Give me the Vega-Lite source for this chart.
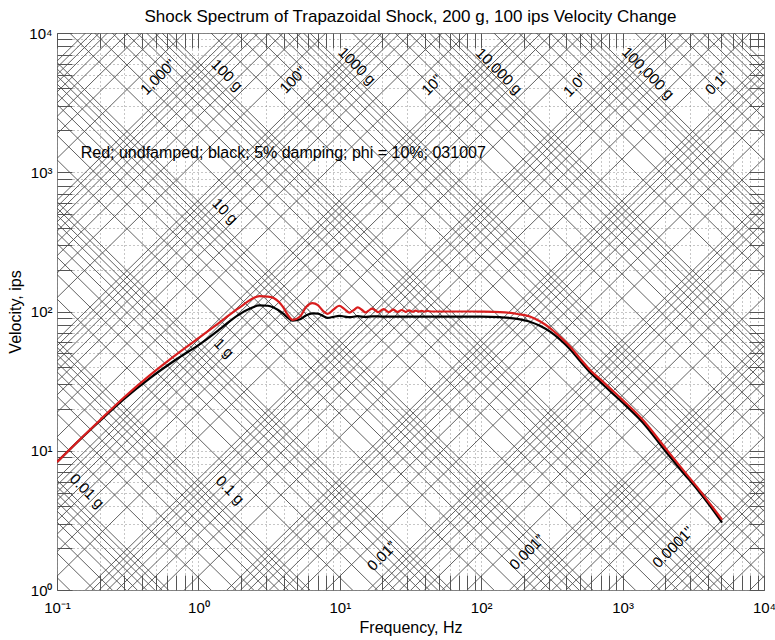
{
"$schema": "https://vega.github.io/schema/vega-lite/v6.json",
"width": 707, "height": 557,
"autosize": {"type": "none"},
"padding": {"left": 57, "top": 33, "right": 11, "bottom": 50},
"title": {"text": "Shock Spectrum of Trapazoidal Shock, 200 g, 100 ips Velocity Change", "font": "Liberation Sans", "fontSize": 17, "fontWeight": "normal", "color": "#000", "offset": 0, "anchor": "middle"},
"config": {
  "view": {"stroke": "#808080", "strokeWidth": 1},
  "axis": {"labelFont": "Liberation Sans", "titleFont": "Liberation Sans", "labelFontSize": 15, "titleFontSize": 16, "titleFontWeight": "normal", "labelColor": "#000", "titleColor": "#000", "tickColor": "#555", "tickWidth": 1, "domain": false, "labelFlush": false, "labelOverlap": false, "gridDash": [1, 3], "gridColor": "#8c8c8c", "gridOpacity": 1, "gridWidth": 1, "tickSize": -15}
},
"datasets": {
"grid": [
{"v1":12.2898e0,"v2":12.2898e-7},{"v1":18.4347e0,"v2":18.4347e-7},{"v1":24.5796e0,"v2":24.5796e-7},{"v1":30.7245e0,"v2":30.7245e-7},{"v1":36.8694e0,"v2":36.8694e-7},{"v1":43.0143e0,"v2":43.0143e-7},{"v1":49.1592e0,"v2":49.1592e-7},{"v1":55.3041e0,"v2":55.3041e-7},
{"v1":6.1449e1,"v2":6.1449e-6},{"v1":12.2898e1,"v2":12.2898e-6},{"v1":18.4347e1,"v2":18.4347e-6},{"v1":24.5796e1,"v2":24.5796e-6},{"v1":30.7245e1,"v2":30.7245e-6},{"v1":36.8694e1,"v2":36.8694e-6},{"v1":43.0143e1,"v2":43.0143e-6},{"v1":49.1592e1,"v2":49.1592e-6},{"v1":55.3041e1,"v2":55.3041e-6},
{"v1":6.1449e2,"v2":6.1449e-5},{"v1":12.2898e2,"v2":12.2898e-5},{"v1":18.4347e2,"v2":18.4347e-5},{"v1":24.5796e2,"v2":24.5796e-5},{"v1":30.7245e2,"v2":30.7245e-5},{"v1":36.8694e2,"v2":36.8694e-5},{"v1":43.0143e2,"v2":43.0143e-5},{"v1":49.1592e2,"v2":49.1592e-5},{"v1":55.3041e2,"v2":55.3041e-5},
{"v1":6.1449e3,"v2":6.1449e-4},{"v1":12.2898e3,"v2":12.2898e-4},{"v1":18.4347e3,"v2":18.4347e-4},{"v1":24.5796e3,"v2":24.5796e-4},{"v1":30.7245e3,"v2":30.7245e-4},{"v1":36.8694e3,"v2":36.8694e-4},{"v1":43.0143e3,"v2":43.0143e-4},{"v1":49.1592e3,"v2":49.1592e-4},{"v1":55.3041e3,"v2":55.3041e-4},
{"v1":6.1449e4,"v2":6.1449e-3},{"v1":12.2898e4,"v2":12.2898e-3},{"v1":18.4347e4,"v2":18.4347e-3},{"v1":24.5796e4,"v2":24.5796e-3},{"v1":30.7245e4,"v2":30.7245e-3},{"v1":36.8694e4,"v2":36.8694e-3},{"v1":43.0143e4,"v2":43.0143e-3},{"v1":49.1592e4,"v2":49.1592e-3},{"v1":55.3041e4,"v2":55.3041e-3},
{"v1":6.1449e5,"v2":6.1449e-2},{"v1":12.2898e5,"v2":12.2898e-2},{"v1":18.4347e5,"v2":18.4347e-2},{"v1":24.5796e5,"v2":24.5796e-2},{"v1":30.7245e5,"v2":30.7245e-2},{"v1":36.8694e5,"v2":36.8694e-2},{"v1":43.0143e5,"v2":43.0143e-2},{"v1":49.1592e5,"v2":49.1592e-2},{"v1":55.3041e5,"v2":55.3041e-2},
{"v1":6.1449e6,"v2":6.1449e-1},{"v1":12.2898e6,"v2":12.2898e-1},{"v1":18.4347e6,"v2":18.4347e-1},{"v1":24.5796e6,"v2":24.5796e-1},{"v1":30.7245e6,"v2":30.7245e-1},{"v1":36.8694e6,"v2":36.8694e-1},{"v1":43.0143e6,"v2":43.0143e-1},{"v1":49.1592e6,"v2":49.1592e-1},{"v1":55.3041e6,"v2":55.3041e-1},
{"v1":6.1449e7,"v2":6.1449e0},{"v1":12.2898e7,"v2":12.2898e0},{"v1":18.4347e7,"v2":18.4347e0},{"v1":24.5796e7,"v2":24.5796e0},{"v1":30.7245e7,"v2":30.7245e0},{"v1":36.8694e7,"v2":36.8694e0},{"v1":43.0143e7,"v2":43.0143e0},{"v1":49.1592e7,"v2":49.1592e0},{"v1":55.3041e7,"v2":55.3041e0},
{"v1":6.1449e8,"v2":6.1449e1},{"v1":12.2898e8,"v2":12.2898e1},{"v1":18.4347e8,"v2":18.4347e1},{"v1":24.5796e8,"v2":24.5796e1},{"v1":30.7245e8,"v2":30.7245e1},{"v1":36.8694e8,"v2":36.8694e1},{"v1":43.0143e8,"v2":43.0143e1},{"v1":49.1592e8,"v2":49.1592e1},{"v1":55.3041e8,"v2":55.3041e1},
{"v1":6.1449e9,"v2":6.1449e2},
{"v1":12.56637e-7,"v2":12.56637e0},{"v1":18.84956e-7,"v2":18.84956e0},{"v1":25.13274e-7,"v2":25.13274e0},{"v1":31.41593e-7,"v2":31.41593e0},{"v1":37.69911e-7,"v2":37.69911e0},{"v1":43.9823e-7,"v2":43.9823e0},{"v1":50.26548e-7,"v2":50.26548e0},{"v1":56.54867e-7,"v2":56.54867e0},
{"v1":6.28319e-6,"v2":6.28319e1},{"v1":12.56637e-6,"v2":12.56637e1},{"v1":18.84956e-6,"v2":18.84956e1},{"v1":25.13274e-6,"v2":25.13274e1},{"v1":31.41593e-6,"v2":31.41593e1},{"v1":37.69911e-6,"v2":37.69911e1},{"v1":43.9823e-6,"v2":43.9823e1},{"v1":50.26548e-6,"v2":50.26548e1},{"v1":56.54867e-6,"v2":56.54867e1},
{"v1":6.28319e-5,"v2":6.28319e2},{"v1":12.56637e-5,"v2":12.56637e2},{"v1":18.84956e-5,"v2":18.84956e2},{"v1":25.13274e-5,"v2":25.13274e2},{"v1":31.41593e-5,"v2":31.41593e2},{"v1":37.69911e-5,"v2":37.69911e2},{"v1":43.9823e-5,"v2":43.9823e2},{"v1":50.26548e-5,"v2":50.26548e2},{"v1":56.54867e-5,"v2":56.54867e2},
{"v1":6.28319e-4,"v2":6.28319e3},{"v1":12.56637e-4,"v2":12.56637e3},{"v1":18.84956e-4,"v2":18.84956e3},{"v1":25.13274e-4,"v2":25.13274e3},{"v1":31.41593e-4,"v2":31.41593e3},{"v1":37.69911e-4,"v2":37.69911e3},{"v1":43.9823e-4,"v2":43.9823e3},{"v1":50.26548e-4,"v2":50.26548e3},{"v1":56.54867e-4,"v2":56.54867e3},
{"v1":6.28319e-3,"v2":6.28319e4},{"v1":12.56637e-3,"v2":12.56637e4},{"v1":18.84956e-3,"v2":18.84956e4},{"v1":25.13274e-3,"v2":25.13274e4},{"v1":31.41593e-3,"v2":31.41593e4},{"v1":37.69911e-3,"v2":37.69911e4},{"v1":43.9823e-3,"v2":43.9823e4},{"v1":50.26548e-3,"v2":50.26548e4},{"v1":56.54867e-3,"v2":56.54867e4},
{"v1":6.28319e-2,"v2":6.28319e5},{"v1":12.56637e-2,"v2":12.56637e5},{"v1":18.84956e-2,"v2":18.84956e5},{"v1":25.13274e-2,"v2":25.13274e5},{"v1":31.41593e-2,"v2":31.41593e5},{"v1":37.69911e-2,"v2":37.69911e5},{"v1":43.9823e-2,"v2":43.9823e5},{"v1":50.26548e-2,"v2":50.26548e5},{"v1":56.54867e-2,"v2":56.54867e5},
{"v1":6.28319e-1,"v2":6.28319e6},{"v1":12.56637e-1,"v2":12.56637e6},{"v1":18.84956e-1,"v2":18.84956e6},{"v1":25.13274e-1,"v2":25.13274e6},{"v1":31.41593e-1,"v2":31.41593e6},{"v1":37.69911e-1,"v2":37.69911e6},{"v1":43.9823e-1,"v2":43.9823e6},{"v1":50.26548e-1,"v2":50.26548e6},{"v1":56.54867e-1,"v2":56.54867e6},
{"v1":6.28319e0,"v2":6.28319e7},{"v1":12.56637e0,"v2":12.56637e7},{"v1":18.84956e0,"v2":18.84956e7},{"v1":25.13274e0,"v2":25.13274e7},{"v1":31.41593e0,"v2":31.41593e7},{"v1":37.69911e0,"v2":37.69911e7},{"v1":43.9823e0,"v2":43.9823e7},{"v1":50.26548e0,"v2":50.26548e7},{"v1":56.54867e0,"v2":56.54867e7},
{"v1":6.28319e1,"v2":6.28319e8},{"v1":12.56637e1,"v2":12.56637e8},{"v1":18.84956e1,"v2":18.84956e8},{"v1":25.13274e1,"v2":25.13274e8},{"v1":31.41593e1,"v2":31.41593e8},{"v1":37.69911e1,"v2":37.69911e8},{"v1":43.9823e1,"v2":43.9823e8},{"v1":50.26548e1,"v2":50.26548e8},{"v1":56.54867e1,"v2":56.54867e8},
{"v1":6.28319e2,"v2":6.28319e9}
],
"labels": [
{"kind":"a","f":1.594,"v":4991,"text":"100 g"},
{"kind":"a","f":13.23,"v":5794,"text":"1000 g"},
{"kind":"a","f":133.6,"v":5333,"text":"10,000 g"},
{"kind":"a","f":1513,"v":5161,"text":"100,000 g"},
{"kind":"a","f":1.542,"v":526.8,"text":"10 g"},
{"kind":"a","f":1.517,"v":54.7,"text":"1 g"},
{"kind":"a","f":0.163,"v":5.14,"text":"0.01 g"},
{"kind":"a","f":1.673,"v":5.23,"text":"0.1 g"},
{"kind":"d","f":0.518,"v":4831,"text":"1,000\""},
{"kind":"d","f":4.667,"v":4598,"text":"100\""},
{"kind":"d","f":44.87,"v":4232,"text":"10\""},
{"kind":"d","f":460.6,"v":4232,"text":"1.0\""},
{"kind":"d","f":4653,"v":4375,"text":"0.1\""},
{"kind":"d","f":19.88,"v":1.754,"text":"0.01\""},
{"kind":"d","f":210.9,"v":1.875,"text":"0.001\""},
{"kind":"d","f":2271,"v":2.036,"text":"0.0001\""}
],
"note": [{"f":0.1471,"v":1375,"text":"Red; undfamped; black; 5% damping; phi = 10%; 031007"}],
"curves": [
{"s":"red","f":0.1,"v":8.3},{"s":"red","f":0.15,"v":12.45},{"s":"red","f":0.2,"v":16.5},{"s":"red","f":0.3,"v":24.3},{"s":"red","f":0.45,"v":34.6},{"s":"red","f":0.7,"v":49.2},{"s":"red","f":1.03,"v":65.7},{"s":"red","f":1.4,"v":83},{"s":"red","f":1.76,"v":99},{"s":"red","f":2.0,"v":108.5},{"s":"red","f":2.32,"v":121},{"s":"red","f":2.7,"v":129},{"s":"red","f":3.1,"v":128},{"s":"red","f":3.4,"v":125},{"s":"red","f":3.96,"v":108},{"s":"red","f":4.3,"v":94},{"s":"red","f":4.65,"v":87},{"s":"red","f":5.24,"v":92},{"s":"red","f":5.8,"v":108},{"s":"red","f":6.4,"v":115},{"s":"red","f":7.0,"v":111},{"s":"red","f":7.6,"v":101},{"s":"red","f":8.2,"v":96},{"s":"red","f":9.0,"v":103},{"s":"red","f":9.9,"v":110},{"s":"red","f":10.8,"v":104},{"s":"red","f":11.7,"v":98},{"s":"red","f":12.5,"v":102},{"s":"red","f":13.4,"v":107},{"s":"red","f":14.3,"v":103},{"s":"red","f":15.2,"v":98.5},{"s":"red","f":16.0,"v":101.5},{"s":"red","f":16.9,"v":105},{"s":"red","f":17.8,"v":102},{"s":"red","f":18.7,"v":99},{"s":"red","f":20.4,"v":104},{"s":"red","f":22.2,"v":99},{"s":"red","f":23.9,"v":103},{"s":"red","f":25.7,"v":99.3},{"s":"red","f":27.4,"v":102.5},{"s":"red","f":29.2,"v":99.5},{"s":"red","f":30.9,"v":102},{"s":"red","f":32.7,"v":99.6},{"s":"red","f":34.4,"v":101.5},{"s":"red","f":36.2,"v":99.7},{"s":"red","f":37.9,"v":101},{"s":"red","f":39.7,"v":99.8},{"s":"red","f":41.4,"v":100.8},{"s":"red","f":45,"v":100},{"s":"red","f":60,"v":100},{"s":"red","f":80,"v":100},{"s":"red","f":100,"v":99.8},{"s":"red","f":136,"v":99},{"s":"red","f":180,"v":96},{"s":"red","f":221,"v":92},{"s":"red","f":260,"v":85},{"s":"red","f":307,"v":76},{"s":"red","f":360,"v":66},{"s":"red","f":425,"v":56},{"s":"red","f":500,"v":46},{"s":"red","f":589,"v":38},{"s":"red","f":700,"v":32.4},{"s":"red","f":850,"v":27},{"s":"red","f":1007,"v":23},{"s":"red","f":1393,"v":16.6},{"s":"red","f":2000,"v":10.5},{"s":"red","f":2700,"v":7.2},{"s":"red","f":3357,"v":5.5},{"s":"red","f":4200,"v":4.1},{"s":"red","f":5050,"v":3.2},
{"s":"black","f":0.1,"v":8.3},{"s":"black","f":0.15,"v":12.4},{"s":"black","f":0.2,"v":16.3},{"s":"black","f":0.3,"v":23.7},{"s":"black","f":0.45,"v":33},{"s":"black","f":0.7,"v":45.4},{"s":"black","f":1.03,"v":58.5},{"s":"black","f":1.4,"v":74},{"s":"black","f":1.76,"v":89},{"s":"black","f":2.0,"v":97},{"s":"black","f":2.32,"v":105},{"s":"black","f":2.7,"v":110.5},{"s":"black","f":3.1,"v":110},{"s":"black","f":3.4,"v":107},{"s":"black","f":3.96,"v":97},{"s":"black","f":4.3,"v":90},{"s":"black","f":4.65,"v":86},{"s":"black","f":5.24,"v":88},{"s":"black","f":5.8,"v":94},{"s":"black","f":6.4,"v":97},{"s":"black","f":7.0,"v":96.5},{"s":"black","f":7.6,"v":93},{"s":"black","f":8.2,"v":90},{"s":"black","f":9.0,"v":91.5},{"s":"black","f":9.9,"v":93},{"s":"black","f":10.8,"v":92},{"s":"black","f":11.7,"v":91},{"s":"black","f":13.4,"v":92.5},{"s":"black","f":15.2,"v":91.5},{"s":"black","f":17,"v":92.3},{"s":"black","f":20,"v":92},{"s":"black","f":30,"v":92},{"s":"black","f":50,"v":92},{"s":"black","f":100,"v":92},{"s":"black","f":136,"v":91},{"s":"black","f":180,"v":88.5},{"s":"black","f":221,"v":84.5},{"s":"black","f":260,"v":79},{"s":"black","f":307,"v":71.6},{"s":"black","f":360,"v":63},{"s":"black","f":425,"v":53.6},{"s":"black","f":500,"v":44},{"s":"black","f":589,"v":36.5},{"s":"black","f":700,"v":31},{"s":"black","f":850,"v":25.8},{"s":"black","f":1007,"v":22},{"s":"black","f":1393,"v":15.9},{"s":"black","f":2000,"v":10},{"s":"black","f":2700,"v":6.9},{"s":"black","f":3357,"v":5.3},{"s":"black","f":4200,"v":3.95},{"s":"black","f":5050,"v":3.05}
]
},
"layer": [
{
  "data": {"name": "grid"},
  "mark": {"type": "rule", "clip": true, "color": "#505050", "strokeWidth": 0.9},
  "encoding": {
    "x": {"datum": 0.01, "type": "quantitative", "scale": {"type": "log", "domain": [0.1, 10000], "nice": false}, "axis": null},
    "x2": {"datum": 100000},
    "y": {"field": "v1", "type": "quantitative", "scale": {"type": "log", "domain": [1, 10000], "nice": false}, "axis": null},
    "y2": {"field": "v2"}
  }
},
{
  "data": {"name": "labels"},
  "transform": [{"filter": "datum.kind == 'a'"}],
  "mark": {"type": "text", "angle": 45, "font": "Liberation Sans", "fontSize": 15, "color": "#000", "align": "center", "baseline": "middle"},
  "encoding": {
    "x": {"field": "f", "type": "quantitative", "scale": {"type": "log", "domain": [0.1, 10000], "nice": false}, "axis": null},
    "y": {"field": "v", "type": "quantitative", "scale": {"type": "log", "domain": [1, 10000], "nice": false}, "axis": null},
    "text": {"field": "text"}
  }
},
{
  "data": {"name": "labels"},
  "transform": [{"filter": "datum.kind == 'd'"}],
  "mark": {"type": "text", "angle": 315, "font": "Liberation Sans", "fontSize": 15, "color": "#000", "align": "center", "baseline": "middle"},
  "encoding": {
    "x": {"field": "f", "type": "quantitative", "scale": {"type": "log", "domain": [0.1, 10000], "nice": false}, "axis": null},
    "y": {"field": "v", "type": "quantitative", "scale": {"type": "log", "domain": [1, 10000], "nice": false}, "axis": null},
    "text": {"field": "text"}
  }
},
{
  "data": {"name": "note"},
  "mark": {"type": "text", "font": "Liberation Sans", "fontSize": 16, "color": "#000", "align": "left", "baseline": "middle"},
  "encoding": {
    "x": {"field": "f", "type": "quantitative", "scale": {"type": "log", "domain": [0.1, 10000], "nice": false}, "axis": null},
    "y": {"field": "v", "type": "quantitative", "scale": {"type": "log", "domain": [1, 10000], "nice": false}, "axis": null},
    "text": {"field": "text"}
  }
},
{
  "data": {"name": "curves"},
  "transform": [{"filter": "datum.s == 'black'"}],
  "mark": {"type": "line", "color": "#000", "strokeWidth": 2.2, "interpolate": "monotone", "clip": true},
  "encoding": {
    "x": {"field": "f", "type": "quantitative", "scale": {"type": "log", "domain": [0.1, 10000], "nice": false},
      "axis": {"orient": "bottom", "title": "Frequency, Hz", "titlePadding": 4, "labelPadding": 25, "grid": true,
        "values": [0.1,0.2,0.3,0.4,0.5,0.6,0.7,0.8,0.9,1,2,3,4,5,6,7,8,9,10,20,30,40,50,60,70,80,90,100,200,300,400,500,600,700,800,900,1000,2000,3000,4000,5000,6000,7000,8000,9000,10000],
        "labelExpr": "datum.value == 0.1 ? '10⁻¹' : datum.value == 1 ? '10⁰' : datum.value == 10 ? '10¹' : datum.value == 100 ? '10²' : datum.value == 1000 ? '10³' : datum.value == 10000 ? '10⁴' : ''"}},
    "y": {"field": "v", "type": "quantitative", "scale": {"type": "log", "domain": [1, 10000], "nice": false},
      "axis": {"orient": "left", "title": "Velocity, ips", "titlePadding": 5, "labelPadding": 20, "grid": true,
        "values": [1,2,3,4,5,6,7,8,9,10,20,30,40,50,60,70,80,90,100,200,300,400,500,600,700,800,900,1000,2000,3000,4000,5000,6000,7000,8000,9000,10000],
        "labelExpr": "datum.value == 1 ? '10⁰' : datum.value == 10 ? '10¹' : datum.value == 100 ? '10²' : datum.value == 1000 ? '10³' : datum.value == 10000 ? '10⁴' : ''"}}
  }
},
{
  "data": {"name": "curves"},
  "transform": [{"filter": "datum.s == 'red'"}],
  "mark": {"type": "line", "color": "#d81e1e", "strokeWidth": 2.2, "interpolate": "monotone", "clip": true},
  "encoding": {
    "x": {"field": "f", "type": "quantitative", "scale": {"type": "log", "domain": [0.1, 10000], "nice": false},
      "axis": {"orient": "top", "title": null, "labels": false, "grid": false,
        "values": [0.1,0.2,0.3,0.4,0.5,0.6,0.7,0.8,0.9,1,2,3,4,5,6,7,8,9,10,20,30,40,50,60,70,80,90,100,200,300,400,500,600,700,800,900,1000,2000,3000,4000,5000,6000,7000,8000,9000,10000]}},
    "y": {"field": "v", "type": "quantitative", "scale": {"type": "log", "domain": [1, 10000], "nice": false},
      "axis": {"orient": "right", "title": null, "labels": false, "grid": false,
        "values": [1,2,3,4,5,6,7,8,9,10,20,30,40,50,60,70,80,90,100,200,300,400,500,600,700,800,900,1000,2000,3000,4000,5000,6000,7000,8000,9000,10000]}}
  }
}
],
"resolve": {"axis": {"x": "independent", "y": "independent"}}
}
